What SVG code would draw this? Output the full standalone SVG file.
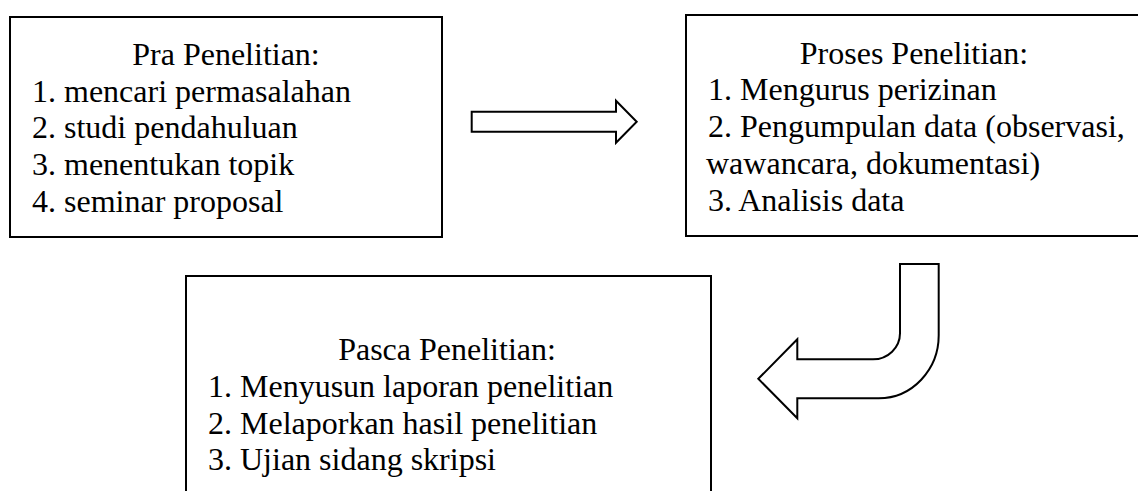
<svg xmlns="http://www.w3.org/2000/svg" width="1138" height="491" viewBox="0 0 1138 491">
<style>
.box{fill:#fff;stroke:#000;stroke-width:2}
.arrow{fill:#fff;stroke:#000;stroke-width:2;stroke-linejoin:miter}
text{font-family:"Liberation Serif","Times New Roman",serif;font-size:32px;fill:#000}
.c{text-anchor:middle}
</style>
<rect width="1138" height="491" fill="#fff"/>
<g id="pra">
<rect class="box" x="10" y="17" width="432" height="220"/>
<text class="c" x="226" y="65">Pra Penelitian:</text>
<text x="32" y="101.5">1. mencari permasalahan</text>
<text x="32" y="138.3">2. studi pendahuluan</text>
<text x="32" y="175">3. menentukan topik</text>
<text x="32" y="211.7">4. seminar proposal</text>
</g>
<g id="proses">
<rect class="box" x="686" y="15" width="458" height="221"/>
<text class="c" x="914" y="63.5">Proses Penelitian:</text>
<text x="708" y="100.2">1. Mengurus perizinan</text>
<text x="708" y="137">2. Pengumpulan data (observasi,</text>
<text x="706" y="173.8">wawancara, dokumentasi)</text>
<text x="708" y="210.6">3. Analisis data</text>
</g>
<g id="pasca">
<rect class="box" x="186" y="276" width="525" height="230"/>
<text class="c" x="447" y="360">Pasca Penelitian:</text>
<text x="208" y="396.8">1. Menyusun laporan penelitian</text>
<text x="208" y="433.6">2. Melaporkan hasil penelitian</text>
<text x="208" y="470.4">3. Ujian sidang skripsi</text>
</g>
<g id="connectors">
<path class="arrow" d="M471.7 111.7 L616 111.7 L616 100.7 L636.7 121.7 L616 142.7 L616 131.7 L471.7 131.7 Z"/>
<path class="arrow" d="M900 264 L938.7 264 L938.7 335 A60 63 0 0 1 878.7 398.3 L797.3 398.3 L797.3 418.3 L758.3 378.8 L797.3 339.3 L797.3 359.3 L873 359.3 A27 26 0 0 0 900 333.3 Z"/>
</g>
</svg>
